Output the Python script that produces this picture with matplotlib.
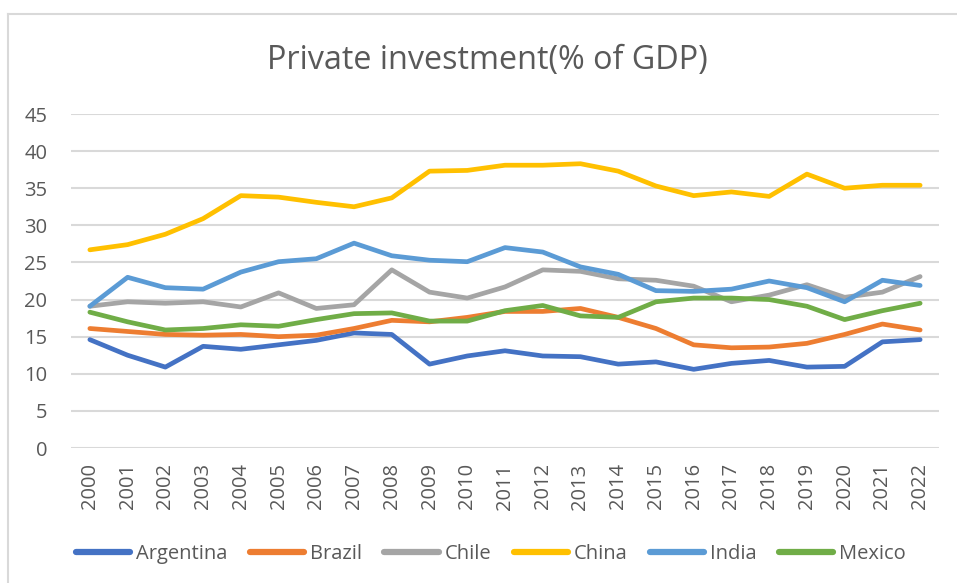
import matplotlib
matplotlib.use("Agg")
import matplotlib.pyplot as plt
from matplotlib.lines import Line2D

years = [str(y) for y in range(2000, 2023)]
argentina = [14.6, 12.5, 10.9, 13.7, 13.3, 13.9, 14.5, 15.5, 15.3, 11.3, 12.4, 13.1, 12.4, 12.3, 11.3,
             11.6, 10.6, 11.4, 11.8, 10.9, 11.0, 14.3, 14.6]
brazil = [16.1, 15.7, 15.3, 15.2, 15.3, 15.0, 15.2, 16.1, 17.2, 17.0, 17.6, 18.4, 18.4, 18.8, 17.6,
          16.1, 13.9, 13.5, 13.6, 14.1, 15.3, 16.7, 15.9]
chile = [19.1, 19.7, 19.5, 19.7, 19.0, 20.9, 18.8, 19.3, 24.0, 21.0, 20.2, 21.7, 24.0, 23.8, 22.8,
         22.6, 21.8, 19.7, 20.6, 22.0, 20.3, 21.0, 23.1]
china = [26.7, 27.4, 28.8, 30.9, 34.0, 33.8, 33.1, 32.5, 33.7, 37.3, 37.4, 38.1, 38.1, 38.3, 37.3,
         35.3, 34.0, 34.5, 33.9, 36.9, 35.0, 35.4, 35.4]
india = [19.1, 23.0, 21.6, 21.4, 23.7, 25.1, 25.5, 27.6, 25.9, 25.3, 25.1, 27.0, 26.4, 24.4, 23.4,
         21.2, 21.1, 21.4, 22.5, 21.6, 19.7, 22.6, 21.9]
mexico = [18.3, 17.0, 15.9, 16.1, 16.6, 16.4, 17.3, 18.1, 18.2, 17.1, 17.1, 18.5, 19.2, 17.8, 17.6,
          19.7, 20.2, 20.2, 20.0, 19.1, 17.3, 18.5, 19.5]

series_names = ["Argentina", "Brazil", "Chile", "China", "India", "Mexico"]
series_values = [argentina, brazil, chile, china, india, mexico]
colors = ["#4472C4", "#ED7D31", "#A5A5A5", "#FFC000", "#5B9BD5", "#70AD47"]
yticks = [0, 5, 10, 15, 20, 25, 30, 35, 40, 45]
title = "Private investment(% of GDP)"

FONT = ["Open Sans", "DejaVu Sans"]
TXT = "#595959"
plt.rcParams["font.family"] = FONT

W, H = 957, 583
fig = plt.figure(figsize=(W / 100, H / 100), dpi=100)
ax = fig.add_axes([71 / W, 1 - 448 / H, (939 - 71) / W, (448 - 114) / H])

x = list(range(len(years)))
for name, vals, c in zip(series_names, series_values, colors):
    ax.plot(x, vals, color=c, lw=3.4, label=name, solid_capstyle="round", solid_joinstyle="round")

ax.set_xlim(-0.5, len(years) - 0.5)
ax.set_ylim(0, 45)
ax.set_yticks(yticks)
ax.set_yticklabels([str(v) for v in yticks])
ax.set_xticks(x)
ax.set_xticklabels(years, rotation=90)
ax.grid(axis="y", color="#D9D9D9", lw=1.5)
ax.set_axisbelow(True)
for s in ax.spines.values():
    s.set_visible(False)
ax.tick_params(axis="both", length=0, colors=TXT, labelsize=14.5)
ax.tick_params(axis="y", pad=17)
ax.tick_params(axis="x", pad=11)

fig.text(487 / W, 1 - 61 / H, title, ha="center", va="center", fontsize=23.3, color=TXT)

leg = fig.legend(loc="center", bbox_to_anchor=(491 / W, 1 - 554 / H), ncol=6, frameon=False,
                 fontsize=14.5, handlelength=2.7, handletextpad=0.3, columnspacing=1.1,
                 borderaxespad=0)
for t in leg.get_texts():
    t.set_color(TXT)
for h in leg.legend_handles:
    h.set_linewidth(4.5)

bx = 8 / W
by = 1 - 14 / H
fig.add_artist(Line2D([bx, bx], [0, by], transform=fig.transFigure, color="#D9D9D9", lw=1.5))
fig.add_artist(Line2D([bx, 1], [by, by], transform=fig.transFigure, color="#D9D9D9", lw=1.5))

fig.savefig("out.png", dpi=100)
